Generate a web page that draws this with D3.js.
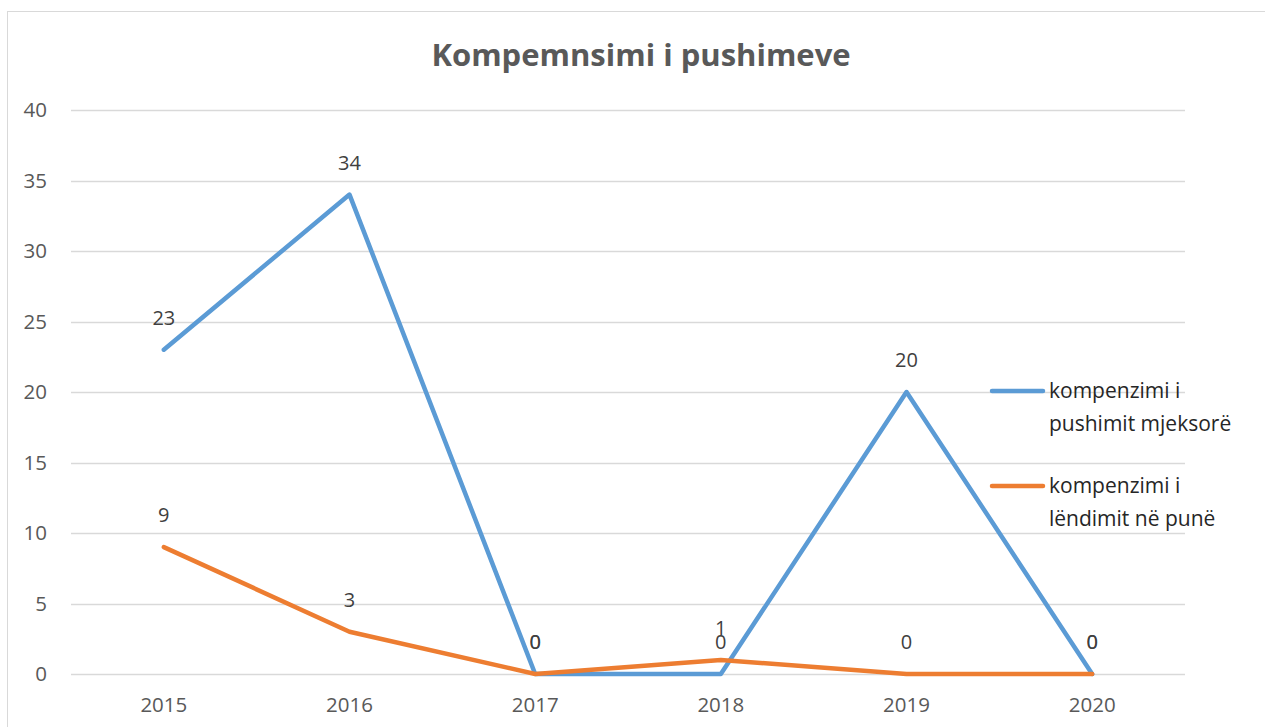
<!DOCTYPE html>
<html>
<head>
<meta charset="utf-8">
<script src="https://cdn.jsdelivr.net/npm/d3@7"></script>
<style>
  body { margin: 0; background: #fff; }
  svg { display: block; }
</style>
</head>
<body>
<script>
var years = ["2015", "2016", "2017", "2018", "2019", "2020"];
var mjeksore = [23, 34, 0, 0, 20, 0];
var lendimit = [9, 3, 0, 1, 0, 0];
var seriesNames = [["kompenzimi i", "pushimit mjeksorë"], ["kompenzimi i", "lëndimit në punë"]];
var yTicks = [0, 5, 10, 15, 20, 25, 30, 35, 40];

var width = 1265, height = 727;
var font = "'Open Sans', sans-serif";

var svg = d3.select("body").append("svg")
    .attr("width", width)
    .attr("height", height);

// chart frame
svg.append("rect")
    .attr("x", 7.5).attr("y", 11.5)
    .attr("width", 1300).attr("height", 800)
    .attr("fill", "#fff")
    .attr("stroke", "#d9d9d9")
    .attr("stroke-width", 1);

var x = d3.scaleBand().domain(years).range([71, 1185]);
var y = d3.scaleLinear().domain([0, 40]).range([674, 110]);

// gridlines
svg.selectAll(".grid")
    .data(yTicks)
    .enter().append("line")
    .attr("x1", 71).attr("x2", 1185)
    .attr("y1", function(d) { return Math.round(y(d)) + 0.5; })
    .attr("y2", function(d) { return Math.round(y(d)) + 0.5; })
    .attr("stroke", "#d9d9d9")
    .attr("stroke-width", 1.3);

// y tick labels
svg.selectAll(".ylab")
    .data(yTicks)
    .enter().append("text")
    .attr("x", 47)
    .attr("y", function(d) { return y(d); })
    .attr("dy", "0.35em")
    .attr("text-anchor", "end")
    .attr("font-family", font)
    .attr("font-size", 20.5)
    .attr("fill", "#595959")
    .text(function(d) { return d; });

// x tick labels
svg.selectAll(".xlab")
    .data(years)
    .enter().append("text")
    .attr("x", function(d) { return x(d) + x.bandwidth() / 2; })
    .attr("y", 705)
    .attr("dy", "0.35em")
    .attr("text-anchor", "middle")
    .attr("font-family", font)
    .attr("font-size", 20.5)
    .attr("fill", "#595959")
    .text(function(d) { return d; });

// title
svg.append("text")
    .attr("x", 641)
    .attr("y", 55)
    .attr("dy", "0.35em")
    .attr("text-anchor", "middle")
    .attr("font-family", font)
    .attr("font-weight", "bold")
    .attr("font-size", 31)
    .attr("fill", "#595959")
    .text("Kompemnsimi i pushimeve");

var line = d3.line()
    .x(function(d, i) { return x(years[i]) + x.bandwidth() / 2; })
    .y(function(d) { return y(d); });

var series = [
    { values: mjeksore, color: "#5b9bd5", name: seriesNames[0] },
    { values: lendimit, color: "#ed7d31", name: seriesNames[1] }
];

series.forEach(function(s) {
    svg.append("path")
        .datum(s.values)
        .attr("d", line)
        .attr("fill", "none")
        .attr("stroke", s.color)
        .attr("stroke-width", 4.5)
        .attr("stroke-linejoin", "round")
        .attr("stroke-linecap", "round");
});

// data labels (orange first so blue sits on top like the original)
[series[1], series[0]].forEach(function(s) {
    svg.selectAll(null)
        .data(s.values)
        .enter().append("text")
        .attr("x", function(d, i) { return x(years[i]) + x.bandwidth() / 2; })
        .attr("y", function(d) { return y(d) - 32; })
        .attr("dy", "0.35em")
        .attr("text-anchor", "middle")
        .attr("font-family", font)
        .attr("font-size", 20)
        .attr("fill", "#404040")
        .text(function(d) { return d; });
});

// legend
var legend = svg.selectAll(".legend")
    .data(series)
    .enter().append("g")
    .attr("transform", function(d, i) { return "translate(990," + (391 + i * 95) + ")"; });

legend.append("line")
    .attr("x1", 2).attr("x2", 53)
    .attr("stroke", function(d) { return d.color; })
    .attr("stroke-width", 4.5)
    .attr("stroke-linecap", "round");

legend.each(function(d) {
    var g = d3.select(this);
    d.name.forEach(function(t, j) {
        g.append("text")
            .attr("x", 59)
            .attr("y", j * 33)
            .attr("dy", "0.35em")
            .attr("font-family", font)
            .attr("font-size", 21)
            .attr("fill", "#262626")
            .text(t);
    });
});
</script>
</body>
</html>
